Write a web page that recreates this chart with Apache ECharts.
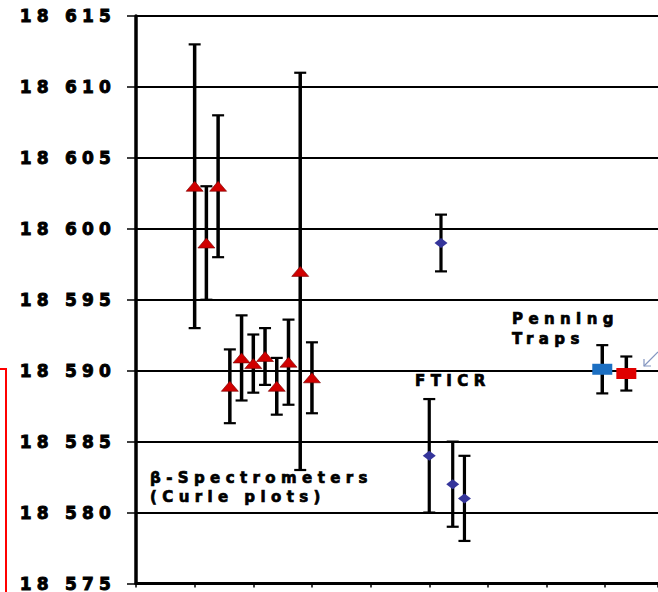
<!DOCTYPE html>
<html>
<head>
<meta charset="utf-8">
<script src="https://cdn.jsdelivr.net/npm/echarts@6/dist/echarts.min.js"></script>
<style>
  html, body { margin: 0; padding: 0; background: #fff; }
  #main { width: 658px; height: 592px; }
  /* heavy, spaced lettering for the chart text */
  #main text {
    font-weight: bold !important;
    stroke: #000;
    stroke-width: 0.7px;
    letter-spacing: 5.4px;
  }
  /* value labels on the energy axis */
  #main text[style*="17px"] {
    letter-spacing: 5.2px;
    stroke-width: 0.9px;
  }
</style>
</head>
<body>
<div id="main"></div>
<script>
// Y-axis range and tick step (keV)
const yMin = 18575;
const yMax = 18615;
const yStep = 5;

// beta-spectrometer results (Curie plots)
const betaX   = [1.0, 1.2, 1.4, 1.6, 1.8, 2.0, 2.2, 2.4, 2.6, 2.8, 3.0];
const betaY   = [18603, 18599, 18603, 18588.9, 18590.9, 18590.5, 18591, 18588.9, 18590.6, 18597, 18589.5];
const betaErr = [10, 4, 5, 2.6, 3, 2.05, 2, 2, 3, 14, 2.5];

// FTICR results
const fticrX   = [5.0, 5.2, 5.4, 5.6];
const fticrY   = [18584, 18599, 18582, 18581];
const fticrErr = [4, 2, 3, 3];

// Penning trap results
const penningX   = [7.95, 8.36];
const penningY   = [18590.1, 18589.8];
const penningErr = [1.7, 1.2];
const penningColors = ['#1c6fc2', '#e00000'];

// group captions
const betaCaption = ['β-Spectrometers', '(Curie plots)'];
const fticrCaption = 'FTICR';
const penningCaption = ['Penning', 'Traps'];

function bars(xs, ys, errs) {
  return xs.map((x, i) => [x, ys[i] - errs[i], ys[i] + errs[i]]);
}
function points(xs, ys) {
  return xs.map((x, i) => [x, ys[i]]);
}

function errorBarSeries(data, lineWidth, capWidth) {
  return {
    type: 'custom',
    data: data,
    encode: { x: 0, y: [1, 2] },
    z: 2,
    renderItem: function (params, api) {
      const x = api.value(0);
      const lo = api.coord([x, api.value(1)]);
      const hi = api.coord([x, api.value(2)]);
      const style = { stroke: '#000', lineWidth: lineWidth };
      const capStyle = { stroke: '#000', lineWidth: 2.2 };
      return {
        type: 'group',
        children: [
          { type: 'line', shape: { x1: lo[0], y1: lo[1], x2: hi[0], y2: hi[1] }, style: style },
          { type: 'line', shape: { x1: hi[0] - capWidth / 2, y1: hi[1], x2: hi[0] + capWidth / 2, y2: hi[1] }, style: capStyle },
          { type: 'line', shape: { x1: lo[0] - capWidth / 2, y1: lo[1], x2: lo[0] + capWidth / 2, y2: lo[1] }, style: capStyle }
        ]
      };
    }
  };
}

const labelFont = { fontFamily: 'DejaVu Sans', fontWeight: 'bold', fontSize: 15, fill: '#000' };

const chart = echarts.init(document.getElementById('main'), null, { renderer: 'svg' });
chart.setOption({
  animation: false,
  backgroundColor: '#fff',
  textStyle: { fontFamily: 'DejaVu Sans', fontWeight: 'bold' },
  grid: { left: 136, right: 0, top: 16, bottom: 7.5, containLabel: false },
  xAxis: {
    type: 'value',
    min: 0,
    max: 8.9,
    interval: 1,
    axisLine: { show: true, onZero: false, lineStyle: { color: '#000', width: 3 } },
    axisTick: { show: true, length: 4, lineStyle: { color: '#000', width: 1.5 } },
    axisLabel: { show: false },
    splitLine: { show: false }
  },
  yAxis: {
    type: 'value',
    min: yMin,
    max: yMax,
    interval: yStep,
    axisLine: { show: true, onZero: false, lineStyle: { color: '#000', width: 3.5 } },
    axisTick: { show: true, length: 9, lineStyle: { color: '#000', width: 1.5 } },
    axisLabel: {
      margin: 20,
      color: '#000',
      fontSize: 17,
      fontWeight: 'bold',
      fontFamily: 'DejaVu Sans',
      formatter: function (v) {
        const s = String(Math.round(v));
        return s.slice(0, 2) + ' ' + s.slice(2);
      }
    },
    splitLine: { show: true, lineStyle: { color: '#000', width: 1.8 } }
  },
  series: [
    errorBarSeries(bars(betaX, betaY, betaErr), 3.5, 12),
    errorBarSeries(bars(fticrX, fticrY, fticrErr), 3.2, 12),
    errorBarSeries(bars(penningX, penningY, penningErr), 3.5, 12),
    {
      type: 'scatter',
      data: points(betaX, betaY),
      symbol: 'triangle',
      symbolSize: [17, 10],
      z: 3,
      itemStyle: { color: '#d00000', borderColor: '#7a0000', borderWidth: 0.6, opacity: 1 }
    },
    {
      type: 'scatter',
      data: points(fticrX, fticrY),
      symbol: 'diamond',
      symbolSize: [13, 10],
      z: 3,
      itemStyle: { color: '#35359b', opacity: 1 }
    },
    {
      type: 'scatter',
      data: points(penningX, penningY).map((p, i) => ({ value: p, itemStyle: { color: penningColors[i] } })),
      symbol: 'rect',
      symbolSize: [20, 11],
      z: 3,
      itemStyle: { opacity: 1 }
    }
  ],
  graphic: [
    { type: 'text', left: 150, top: 470, style: Object.assign({ text: betaCaption[0] }, labelFont) },
    { type: 'text', left: 150, top: 489, style: Object.assign({ text: betaCaption[1] }, labelFont) },
    { type: 'text', left: 415, top: 373, style: Object.assign({ text: fticrCaption }, labelFont) },
    { type: 'text', left: 512, top: 311, style: Object.assign({ text: penningCaption[0] }, labelFont) },
    { type: 'text', left: 512, top: 331, style: Object.assign({ text: penningCaption[1] }, labelFont) },
    // pointer toward the red Penning-trap value
    {
      type: 'group',
      children: [
        { type: 'line', shape: { x1: 658, y1: 352, x2: 644, y2: 366 }, style: { stroke: '#8496c0', lineWidth: 1.2 } },
        { type: 'polyline', shape: { points: [[644, 359], [644, 366], [651, 366]] }, style: { stroke: '#8496c0', lineWidth: 1.2, fill: null } }
      ]
    },
    // red frame edge at the lower left
    {
      type: 'rect',
      shape: { x: -20, y: 369, width: 26, height: 240 },
      style: { stroke: '#ff0000', lineWidth: 2, fill: null }
    }
  ]
});
</script>
</body>
</html>
